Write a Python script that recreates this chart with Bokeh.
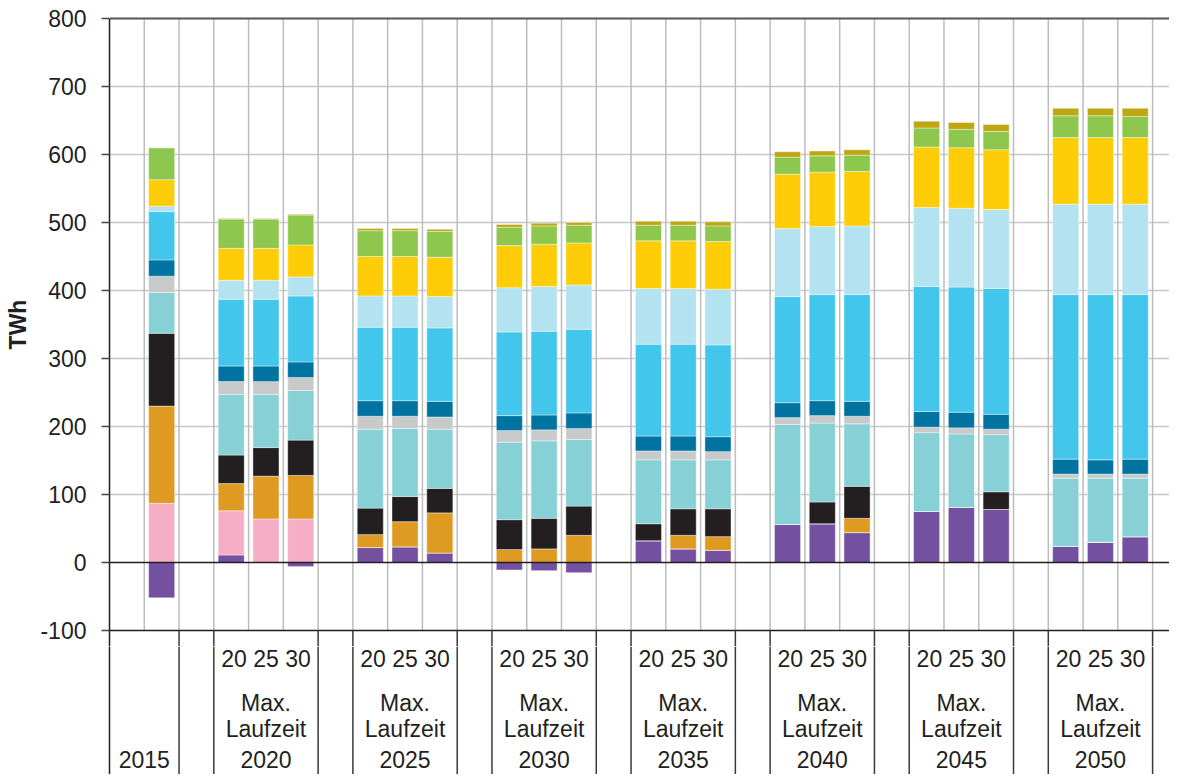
from bokeh.plotting import figure
from bokeh.layouts import column
from bokeh.models import Range1d, FixedTicker, ColumnDataSource
from bokeh.core.properties import value
from bokeh.embed import file_html
from bokeh.resources import INLINE

# ---------------- data ----------------
years = ["2015", "2020", "2025", "2030", "2035", "2040", "2045", "2050"]
runtimes = ["20", "25", "30"]
runtime_title = ["Max.", "Laufzeit"]
y_ticks = [-100, 0, 100, 200, 300, 400, 500, 600, 700, 800]
y_tick_labels = ["-100", "0", "100", "200", "300", "400", "500", "600", "700", "800"]
y_title = "TWh"

# bar order: 2015, then 2020 (20,25,30), 2025 (20,25,30), ... 2050 (20,25,30)
series_names = ["Import-Saldo", "Kernenergie", "Braunkohle", "Steinkohle", "Erdgas",
                "Sonstige", "Wasserkraft", "Wind onshore", "Wind offshore",
                "Photovoltaik", "Biomasse", "Geothermie"]
colors = ["#7351A0", "#F5AEC6", "#DF9A21", "#231F20", "#86D0D6", "#C8C9C9",
          "#0073A0", "#42C6EB", "#B3E2F0", "#FFCD07", "#8EC74D", "#BDA713"]

import_saldo = [-52, 11, 0, -6, 22, 23, 14, -11, -12, -15, 32, 20, 18, 56, 57, 44, 75, 81, 78, 24, 30, 38]
kernenergie  = [87, 65, 64, 64, 0, 0, 0, 0, 0, 0, 0, 0, 0, 0, 0, 0, 0, 0, 0, 0, 0, 0]
braunkohle   = [143, 40, 63, 64, 19, 37, 59, 19, 20, 40, 0, 20, 20, 0, 0, 21, 0, 0, 0, 0, 0, 0]
steinkohle   = [107, 42, 42, 52, 39, 37, 36, 44, 45, 43, 25, 39, 41, 0, 32, 47, 0, 0, 26, 0, 0, 0]
erdgas       = [60, 89, 78, 73, 116, 100, 87, 114, 114, 98, 94, 72, 72, 147, 116, 92, 116, 108, 84, 100, 94, 86]
sonstige     = [24, 19, 19, 19, 19, 18, 18, 17, 16, 16, 13, 13, 12, 10, 11, 11, 8, 9, 8, 6, 6, 6]
wasserkraft  = [24, 23, 23, 23, 23, 23, 23, 22, 22, 23, 22, 22, 22, 22, 22, 22, 23, 23, 22, 22, 21, 22]
wind_onshore = [71, 98, 98, 97, 108, 108, 108, 123, 123, 123, 135, 135, 135, 156, 156, 157, 184, 184, 185, 242, 243, 242]
wind_offshore= [8, 28, 28, 28, 46, 46, 46, 65, 66, 65, 82, 82, 82, 100, 100, 101, 116, 116, 116, 133, 133, 133]
photovoltaik = [39, 47, 47, 47, 58, 58, 58, 62, 62, 62, 70, 70, 70, 80, 80, 80, 89, 89, 88, 98, 98, 98]
biomasse     = [47, 43, 43, 44, 38, 38, 38, 27, 27, 26, 23, 23, 23, 25, 24, 24, 28, 27, 27, 32, 32, 31]
geothermie   = [0, 1, 1, 1, 3, 3, 3, 4, 4, 4, 6, 6, 6, 8, 7, 8, 10, 10, 10, 11, 11, 12]

series_values = [import_saldo, kernenergie, braunkohle, steinkohle, erdgas, sonstige,
                 wasserkraft, wind_onshore, wind_offshore, photovoltaik, biomasse, geothermie]

# ---------------- layout ----------------
PX = 0.68            # pixels per TWh
SLOT_PX = 34.77      # pixels per bar slot
W = 1169
H_TOP, H_BOT = 646, 128
LEFT = 109
FRAME_TOP = 2
ZERO_PX = 562        # pixel row of the zero line
X_END = (W - LEFT) / SLOT_PX
Y_MAX = (ZERO_PX - FRAME_TOP) / PX
Y_MIN = -(H_TOP - ZERO_PX) / PX

TXT = "#231F20"
FONT = "Liberation Sans"
FS = "23px"

# slot positions: 2015 at slot 1; each later year a group of 3 slots, one empty slot between
bar_x = [1.5]
group_centers = []
for g in range(len(years) - 1):
    first = 3 + 4 * g
    for k in range(len(runtimes)):
        bar_x.append(first + k + 0.5)
    group_centers.append(first + 1.5)

# table separator columns
tx = [2, 3]
for g in range(1, len(years) - 1):
    tx += [2 + 4 * g, 3 + 4 * g]
tx.append(30)


def style_axis(ax):
    ax.minor_tick_line_color = None
    ax.axis_line_width = 1.5
    ax.axis_line_color = TXT


# ================= top: chart =================
p = figure(width=W, height=H_TOP, x_range=Range1d(0, X_END), y_range=Range1d(Y_MIN, Y_MAX),
           output_backend="svg", toolbar_location=None, x_axis_location=None,
           min_border_left=LEFT, min_border_right=0, min_border_top=FRAME_TOP, min_border_bottom=0)
p.outline_line_color = None
p.xgrid.visible = False
p.ygrid.visible = False

inner = [t for t in y_ticks if t not in (-100, 0, 800)]
p.segment(x0=[0] * len(inner), x1=[X_END] * len(inner), y0=inner, y1=inner,
          line_color="#C8C8C8", line_width=1.5)
vx = list(range(1, 31))
p.segment(x0=vx, x1=vx, y0=[-100] * len(vx), y1=[800] * len(vx),
          line_color="#BDBDBD", line_width=1.5)

pos_base = [max(0, v) for v in import_saldo]
for name, col, vals in zip(series_names, colors, series_values):
    if name == "Import-Saldo":
        bottoms = [min(0, v) for v in vals]
        tops = [max(0, v) for v in vals]
    else:
        bottoms = pos_base[:]
        tops = [b + v for b, v in zip(bottoms, vals)]
        pos_base = tops
    src = ColumnDataSource(dict(x=bar_x, bottom=bottoms, top=tops))
    p.vbar(x="x", width=0.75, bottom="bottom", top="top", source=src,
           fill_color=col, line_color="white", line_alpha=0.5, line_width=0.8)

for yy, c, w in [(0, TXT, 1.5), (-100, TXT, 1.5), (800, "#555555", 2)]:
    p.segment(x0=[0], x1=[X_END], y0=[yy], y1=[yy], line_color=c, line_width=w)

p.segment(x0=tx, x1=tx, y0=[Y_MIN] * len(tx), y1=[-100] * len(tx),
          line_color="#3A3A3A", line_width=1.5)

ax = p.yaxis[0]
style_axis(ax)
ax.ticker = FixedTicker(ticks=y_ticks)
ax.major_label_overrides = {t: l for t, l in zip(y_ticks, y_tick_labels)}
ax.bounds = (Y_MIN, 800)
ax.major_tick_in = 0
ax.major_tick_out = 8
ax.major_tick_line_width = 1.5
ax.major_tick_line_color = "#444444"
ax.major_label_standoff = 15
ax.major_label_text_font = FONT
ax.major_label_text_font_size = FS
ax.major_label_text_color = TXT
ax.axis_label = y_title
ax.axis_label_text_font = FONT
ax.axis_label_text_font_size = FS
ax.axis_label_text_font_style = "bold"
ax.axis_label_text_color = TXT
ax.axis_label_standoff = 6

# ================= bottom: category table =================
q = figure(width=W, height=H_BOT, x_range=p.x_range,
           y_range=Range1d(H_TOP + H_BOT, H_TOP),   # pixel rows, growing downwards
           output_backend="svg", toolbar_location=None, x_axis_location=None,
           min_border_left=LEFT, min_border_right=0, min_border_top=0, min_border_bottom=0)
q.outline_line_color = None
q.xgrid.visible = False
q.ygrid.visible = False
qa = q.yaxis[0]
style_axis(qa)
qa.ticker = FixedTicker(ticks=[])
qa.major_tick_line_color = None
qa.major_label_text_font_size = "0px"

q.segment(x0=tx, x1=tx, y0=[H_TOP] * len(tx), y1=[H_TOP + H_BOT] * len(tx),
          line_color="#3A3A3A", line_width=1.5)

TEXT_SHIFT = 9  # empirical baseline correction
txt_kw = dict(text_font=value(FONT), text_font_size=FS, text_color=TXT,
              text_align="center", text_baseline="alphabetic")
n = len(group_centers)
q.text(x=group_centers, y=[667.5 - TEXT_SHIFT] * n, text=[" ".join(runtimes)] * n, **txt_kw)
q.text(x=group_centers, y=[711.5 - TEXT_SHIFT] * n, text=[runtime_title[0]] * n, **txt_kw)
q.text(x=group_centers, y=[737.5 - TEXT_SHIFT] * n, text=[runtime_title[1]] * n, **txt_kw)
q.text(x=[1.0] + group_centers, y=[768.0 - TEXT_SHIFT] * len(years), text=years, **txt_kw)

layout = column(p, q, spacing=0)
open("out.html", "w").write(file_html(layout, INLINE))
